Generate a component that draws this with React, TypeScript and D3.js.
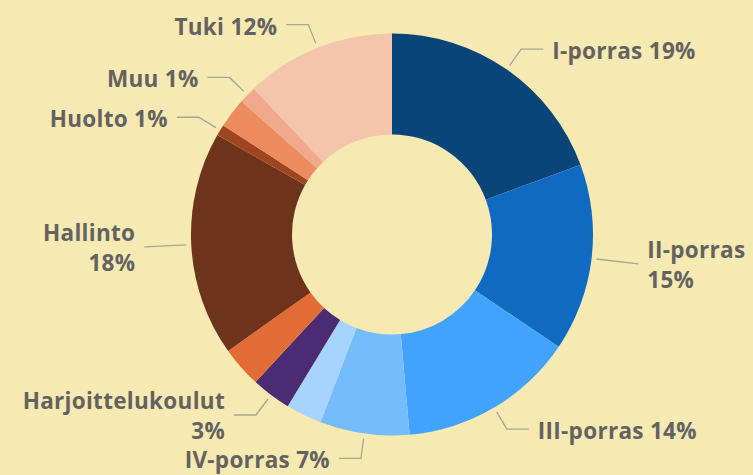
import React from "react";
import * as d3 from "d3";

const categories = [
  "I-porras",
  "II-porras",
  "III-porras",
  "IV-porras",
  "V-porras",
  "Harjoittelukoulut",
  "Erityisopetus",
  "Hallinto",
  "Huolto",
  "Tilat",
  "Muu",
  "Tuki",
];
const values = [19.4, 15.1, 14.2, 7.2, 2.9, 3.2, 3.3, 18.1, 0.9, 2.4, 1.4, 12.1];
const labelled = [true, true, true, true, false, true, false, true, true, false, true, true];
const wrapped = ["II-porras", "Hallinto", "Harjoittelukoulut"];
const colors = [
  "#0a4579",
  "#0f6ac2",
  "#41a3fd",
  "#75bcfd",
  "#a6d4fe",
  "#4b2b73",
  "#e36b36",
  "#6e331b",
  "#9f4520",
  "#ec8b5d",
  "#f0a98a",
  "#f4c4ac",
];

const W = 753;
const H = 475;
const cx = 392;
const cy = 234.5;
const rOuter = 201;
const rInner = 100;
const BG = "#f6e9b1";
const TEXT = "#636261";
const LINE = "#a9a593";
const FONT = "'Open Sans', sans-serif";
const FS = 22.5;

type Row = { name: string; value: number; color: string; show: boolean };

export default function App() {
  const rows: Row[] = categories.map((c, i) => ({
    name: c,
    value: values[i],
    color: colors[i],
    show: labelled[i],
  }));
  const total = d3.sum(values);
  const pie = d3
    .pie<Row>()
    .sort(null)
    .value((d) => d.value)
    .startAngle(0)
    .endAngle(2 * Math.PI);
  const arcs = pie(rows);
  const arc = d3
    .arc<d3.PieArcDatum<Row>>()
    .innerRadius(rInner)
    .outerRadius(rOuter);

  const pt = (a: number, r: number): [number, number] => [
    Math.sin(a) * r,
    -Math.cos(a) * r,
  ];

  return (
    <svg
      width={W}
      height={H}
      style={{ position: "absolute", left: 0, top: 0, display: "block" }}
    >
      <rect x={0} y={0} width={W} height={H} fill={BG} />
      <g transform={`translate(${cx},${cy})`}>
        {arcs.map((a, i) => (
          <path key={i} d={arc(a) || ""} fill={a.data.color} />
        ))}
        {arcs.map((a, i) => {
          if (!a.data.show) return null;
          const mid = (a.startAngle + a.endAngle) / 2;
          const side = Math.sin(mid) >= 0 ? 1 : -1;
          const straight = Math.abs(Math.cos(mid)) < 0.15;
          const p1 = pt(mid, 206);
          let pts: [number, number][];
          if (straight) {
            pts = [p1, pt(mid, 248)];
          } else {
            const p2 = pt(mid, 226);
            pts = [p1, p2, [p2[0] + side * 22, p2[1]]];
          }
          const end = pts[pts.length - 1];
          const tx = end[0] + side * 9;
          const pct = Math.round((a.data.value / total) * 100) + "%";
          const isWrapped = wrapped.includes(a.data.name);
          const anchor = side > 0 ? "start" : "end";
          const common = {
            textAnchor: anchor,
            fontFamily: FONT,
            fontWeight: 700,
            fontSize: FS,
            letterSpacing: 0.3,
            fill: TEXT,
          } as const;
          return (
            <g key={"l" + i}>
              <polyline
                points={pts.map((p) => p.join(",")).join(" ")}
                fill="none"
                stroke={LINE}
                strokeWidth={1.3}
              />
              {isWrapped ? (
                <text x={tx} y={end[1] - 6} {...common}>
                  <tspan x={tx}>{a.data.name}</tspan>
                  <tspan x={tx} dy={30}>
                    {pct}
                  </tspan>
                </text>
              ) : (
                <text x={tx} y={end[1] + 10} {...common}>
                  {a.data.name + " " + pct}
                </text>
              )}
            </g>
          );
        })}
      </g>
    </svg>
  );
}
